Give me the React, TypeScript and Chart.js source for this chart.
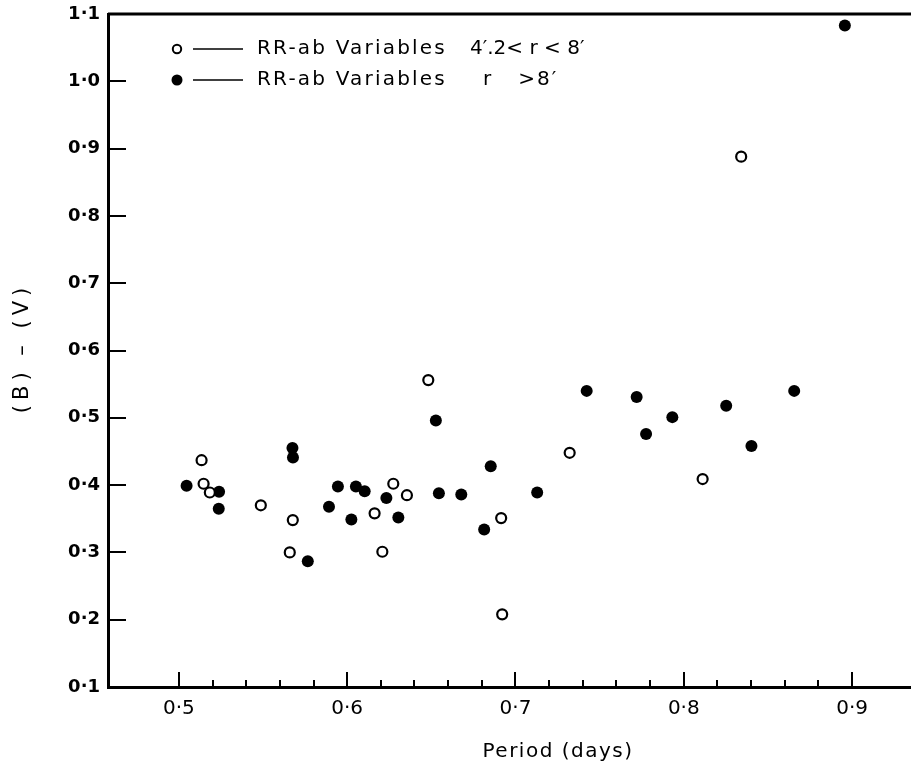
import React, { useEffect, useRef } from "react";
import { Chart, registerables } from "chart.js";

Chart.register(...registerables);

// RR-ab variables 4'.2 < r < 8' (open circles)
const openPeriod = [0.5135, 0.5147, 0.5184, 0.5487, 0.5677, 0.5659, 0.6274, 0.6355, 0.6163, 0.6209, 0.6482, 0.6915, 0.6921, 0.7322, 0.8112, 0.8341];
const openColor = [0.437, 0.402, 0.389, 0.370, 0.348, 0.300, 0.402, 0.385, 0.358, 0.301, 0.556, 0.351, 0.208, 0.448, 0.409, 0.888];

// RR-ab variables r > 8' (filled circles)
const filledPeriod = [0.5046, 0.5239, 0.5237, 0.5675, 0.5678, 0.5766, 0.5892, 0.5945, 0.6052, 0.6104, 0.6233, 0.6025, 0.6304, 0.6527, 0.6545, 0.6678, 0.6853, 0.6814, 0.7129, 0.7423, 0.7720, 0.7776, 0.7932, 0.8252, 0.8402, 0.8656, 0.8957];
const filledColor = [0.399, 0.390, 0.365, 0.455, 0.441, 0.287, 0.368, 0.398, 0.398, 0.391, 0.381, 0.349, 0.352, 0.496, 0.388, 0.386, 0.428, 0.334, 0.389, 0.540, 0.531, 0.476, 0.501, 0.518, 0.458, 0.540, 1.083];

const xTickValues = [0.5, 0.6, 0.7, 0.8, 0.9];
const xTickLabels = ["0·5", "0·6", "0·7", "0·8", "0·9"];
const xMinorTickValues = [0.52, 0.54, 0.56, 0.58, 0.62, 0.64, 0.66, 0.68, 0.72, 0.74, 0.76, 0.78, 0.82, 0.84, 0.86, 0.88];
const yTickValues = [0.1, 0.2, 0.3, 0.4, 0.5, 0.6, 0.7, 0.8, 0.9, 1.0, 1.1];
const yTickLabels = ["0·1", "0·2", "0·3", "0·4", "0·5", "0·6", "0·7", "0·8", "0·9", "1·0", "1·1"];

const seriesNames = ["RR-ab Variables", "RR-ab Variables"];
const seriesConditions = ["4′.2< r < 8′", "r   >8′"];
const xTitle = "Period (days)";
const yTitle = "(B) – (V)";

const X_MIN = 0.4579;
const X_MAX = 0.935;
const Y_MIN = 0.1;
const Y_MAX = 1.1;

const FONT = "'DejaVu Sans', sans-serif";

const decorPlugin = {
  id: "decor",
  beforeDatasetsDraw(chart: any) {
    const { ctx, chartArea, scales } = chart;
    const xs = scales.x;
    const ys = scales.y;
    ctx.save();
    ctx.strokeStyle = "#000";
    ctx.lineCap = "butt";
    // top frame line
    ctx.lineWidth = 3;
    ctx.beginPath();
    ctx.moveTo(chartArea.left, chartArea.top);
    ctx.lineTo(chartArea.right, chartArea.top);
    ctx.stroke();
    // x ticks (inward)
    ctx.lineWidth = 2;
    ctx.beginPath();
    xTickValues.forEach((v) => {
      const px = Math.round(xs.getPixelForValue(v));
      ctx.moveTo(px, chartArea.bottom);
      ctx.lineTo(px, chartArea.bottom - 15);
    });
    xMinorTickValues.forEach((v) => {
      const px = Math.round(xs.getPixelForValue(v));
      ctx.moveTo(px, chartArea.bottom);
      ctx.lineTo(px, chartArea.bottom - 7);
    });
    // y ticks (inward)
    yTickValues.forEach((v) => {
      const py = Math.round(ys.getPixelForValue(v));
      ctx.moveTo(chartArea.left, py);
      ctx.lineTo(chartArea.left + 18, py);
    });
    ctx.stroke();
    ctx.restore();
  },
  afterDraw(chart: any) {
    const { ctx } = chart;
    ctx.save();
    ctx.fillStyle = "#000";
    ctx.strokeStyle = "#000";
    // legend
    const rows = [49, 80];
    rows.forEach((ry, i) => {
      ctx.beginPath();
      if (i === 0) {
        ctx.lineWidth = 2;
        ctx.arc(177, ry, 4.2, 0, Math.PI * 2);
        ctx.fillStyle = "#fff";
        ctx.fill();
        ctx.stroke();
      } else {
        ctx.arc(177, ry, 5.5, 0, Math.PI * 2);
        ctx.fillStyle = "#000";
        ctx.fill();
      }
      ctx.lineWidth = 1.3;
      ctx.beginPath();
      ctx.moveTo(193, ry);
      ctx.lineTo(243, ry);
      ctx.stroke();
      ctx.fillStyle = "#000";
      ctx.font = `20px ${FONT}`;
      ctx.textBaseline = "middle";
      ctx.textAlign = "left";
      (ctx as any).letterSpacing = "2.2px";
      ctx.fillText(seriesNames[i], 257, ry);
      (ctx as any).letterSpacing = i === 0 ? "0px" : "2px";
      ctx.fillText(seriesConditions[i], i === 0 ? 470 : 483, ry);
    });
    // axis titles
    (ctx as any).letterSpacing = "1.5px";
    ctx.font = `20px ${FONT}`;
    ctx.textAlign = "center";
    ctx.textBaseline = "middle";
    ctx.fillText(xTitle, 558, 752);
    ctx.save();
    ctx.translate(23, 350);
    ctx.rotate(-Math.PI / 2);
    (ctx as any).letterSpacing = "5px";
    ctx.font = `21px ${FONT}`;
    ctx.fillText(yTitle, 2, 0);
    ctx.restore();
    ctx.restore();
  },
};

const zeroPadding = (s: any) => {
  s.paddingTop = 0;
  s.paddingBottom = 0;
  s.paddingLeft = 0;
  s.paddingRight = 0;
};

export default function App() {
  const ref = useRef<HTMLCanvasElement | null>(null);
  useEffect(() => {
    if (!ref.current) return;
    const chart = new Chart(ref.current, {
      type: "scatter",
      data: {
        datasets: [
          {
            label: seriesNames[0] + " " + seriesConditions[0],
            data: openPeriod.map((x, i) => ({ x, y: openColor[i] })),
            pointStyle: "circle",
            pointRadius: 5,
            pointBorderWidth: 2.2,
            pointBackgroundColor: "#fff",
            pointBorderColor: "#000",
          },
          {
            label: seriesNames[1] + " " + seriesConditions[1],
            data: filledPeriod.map((x, i) => ({ x, y: filledColor[i] })),
            pointStyle: "circle",
            pointRadius: 6,
            pointBorderWidth: 0,
            pointBackgroundColor: "#000",
            pointBorderColor: "#000",
          },
        ],
      },
      options: {
        animation: false,
        responsive: false,
        layout: { autoPadding: false, padding: { top: 14, right: 0, left: 0, bottom: 0 } },
        plugins: { legend: { display: false }, tooltip: { enabled: false } },
        scales: {
          x: {
            type: "linear",
            min: X_MIN,
            max: X_MAX,
            afterBuildTicks: (s: any) => {
              s.ticks = xTickValues.map((v) => ({ value: v }));
            },
            afterFit: (s: any) => {
              s.height = 78;
              zeroPadding(s);
            },
            grid: { display: false, drawTicks: false },
            border: { display: true, color: "#000", width: 3 },
            ticks: {
              padding: 10,
              color: "#000",
              font: { family: FONT, size: 20 },
              maxRotation: 0,
              callback: (v: any) => {
                const i = xTickValues.findIndex((t) => Math.abs(t - v) < 1e-6);
                return i >= 0 ? xTickLabels[i] : "";
              },
            },
          },
          y: {
            type: "linear",
            min: Y_MIN,
            max: Y_MAX,
            afterBuildTicks: (s: any) => {
              s.ticks = yTickValues.map((v) => ({ value: v }));
            },
            afterFit: (s: any) => {
              s.width = 108;
              zeroPadding(s);
            },
            grid: { display: false, drawTicks: false },
            border: { display: true, color: "#000", width: 3 },
            ticks: {
              padding: 8,
              color: "#000",
              font: { family: FONT, size: 18, weight: "bold" },
              callback: (v: any) => {
                const i = yTickValues.findIndex((t) => Math.abs(t - v) < 1e-6);
                return i >= 0 ? yTickLabels[i] : "";
              },
            },
          },
        },
      },
      plugins: [decorPlugin],
    } as any);
    return () => chart.destroy();
  }, []);
  return (
    <div style={{ position: "absolute", left: 0, top: 0, width: 911, height: 765, background: "#fff" }}>
      <canvas ref={ref} width={911} height={765} style={{ display: "block" }} />
    </div>
  );
}
